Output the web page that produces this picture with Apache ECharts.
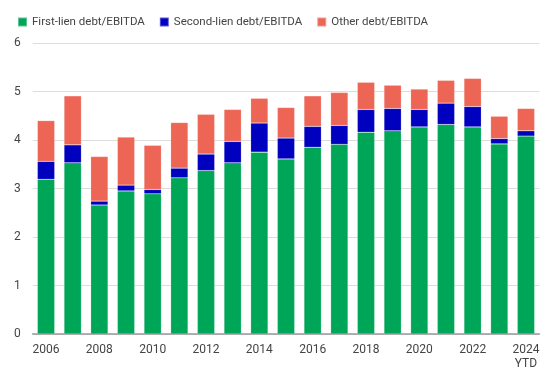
<!DOCTYPE html>
<html><head><meta charset="utf-8">
<script src="https://cdn.jsdelivr.net/npm/echarts@6/dist/echarts.min.js"></script>
<style>html,body{margin:0;padding:0;background:#fff}#c{width:550px;height:381px}</style>
</head><body><div id="c"></div>
<script>
const categories = ['2006','2007','2008','2009','2010','2011','2012','2013','2014','2015','2016','2017','2018','2019','2020','2021','2022','2023','2024\nYTD'];
const firstLien  = [3.19,3.53,2.66,2.95,2.89,3.22,3.37,3.53,3.75,3.61,3.85,3.91,4.16,4.19,4.27,4.32,4.27,3.92,4.08];
const secondLien = [0.37,0.37,0.08,0.12,0.09,0.20,0.34,0.44,0.60,0.43,0.43,0.39,0.47,0.46,0.36,0.44,0.42,0.11,0.11];
const otherDebt  = [0.84,1.01,0.92,0.99,0.91,0.94,0.82,0.66,0.51,0.63,0.63,0.68,0.56,0.48,0.42,0.47,0.58,0.46,0.46];
const yTicks = [0,1,2,3,4,5,6];

const chart = echarts.init(document.getElementById('c'), null, {renderer:'canvas'});
const font = 'Roboto, "Noto Sans", sans-serif';
const barStyle = (c) => ({color:c, borderColor:'rgba(255,255,255,0.35)', borderWidth:0.5});
chart.setOption({
  animation:false,
  textStyle:{fontFamily:font},
  legend:{
    left:12, top:11, itemWidth:9, itemHeight:9, itemGap:14, icon:'rect',
    textStyle:{color:'#444', fontSize:11.5, fontFamily:font},
    data:['First-lien debt/EBITDA','Second-lien debt/EBITDA','Other debt/EBITDA']
  },
  grid:{left:32.7, right:10.7, top:43, bottom:47, containLabel:false},
  xAxis:{
    type:'category', data:categories,
    axisLine:{lineStyle:{color:'#999', width:1.5}},
    axisTick:{show:false},
    axisLabel:{interval:1, color:'#444', fontSize:12, margin:9, lineHeight:14, fontFamily:font}
  },
  yAxis:{
    type:'value', min:yTicks[0], max:yTicks[yTicks.length-1], interval:1,
    axisLine:{show:false}, axisTick:{show:false},
    axisLabel:{color:'#444', fontSize:12, margin:12, fontFamily:font},
    splitLine:{lineStyle:{color:'#dddddd', width:1}}
  },
  series:[
    {name:'First-lien debt/EBITDA', type:'bar', stack:'d', data:firstLien, barWidth:'65%', itemStyle:barStyle('#00a658')},
    {name:'Second-lien debt/EBITDA', type:'bar', stack:'d', data:secondLien, itemStyle:barStyle('#0000bf')},
    {name:'Other debt/EBITDA', type:'bar', stack:'d', data:otherDebt, itemStyle:barStyle('#ed6555')}
  ]
});
</script></body></html>
